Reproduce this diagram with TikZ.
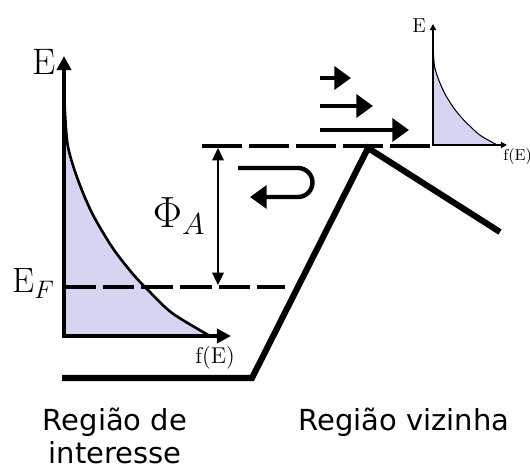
\documentclass[tikz,border=0pt]{standalone}
\usepackage{fontspec}
\usepackage{amsmath}
\usetikzlibrary{arrows.meta}
\newfontfamily\regionfont{DejaVu Sans}
\definecolor{lavender}{RGB}{213,213,242}

\begin{document}
\begin{tikzpicture}[x=0.02cm,y=-0.02cm,
  axis/.style={line width=2.2pt,{Triangle[length=8pt,width=8pt]}-{Triangle[length=8pt,width=8pt]}},
  smallaxis/.style={line width=0.8pt,{Triangle[length=3.5pt,width=3.5pt]}-{Triangle[length=3.5pt,width=3.5pt]}},
  band/.style={line width=3.5pt},
  flow/.style={line width=2.5pt,-{Triangle[length=9.5pt,width=13pt]}},
  level/.style={line width=2.8pt,dash pattern=on 22.7pt off 4pt},
  fermi/.style={line width=2pt,dash pattern=on 18pt off 4pt},
  gap/.style={line width=1.1pt,{Triangle[length=7pt,width=6.5pt]}-{Triangle[length=7pt,width=6.5pt]}},
  region/.style={font=\regionfont\fontsize{16.5}{18.7}\selectfont,align=center,inner sep=0pt}
]
\useasboundingbox (0,0) rectangle (530,469);

% named points
\coordinate (origin) at (64,336);
\coordinate (etop) at (64,56);
\coordinate (fright) at (231,336);
\coordinate (sorigin) at (433,145);
\coordinate (setop) at (433,24);
\coordinate (sfright) at (507,145);
\coordinate (vac) at (218,148);
\coordinate (ef) at (218,285);

% distribution, left
\begin{scope}[shift={(origin)}]
\filldraw[fill=lavender,line width=1.5pt] plot[smooth] coordinates {(0,-254) (1,-223) (4,-189) (14,-156) (28,-123) (48,-89) (68,-63) (83,-47) (108,-23) (146,0)} -- (0,0) -- cycle;
\end{scope}
% distribution, right
\begin{scope}[shift={(sorigin)},xscale=0.44,yscale=0.41]
\filldraw[fill=lavender,line width=0.6pt] plot[smooth] coordinates {(0,-254) (1,-223) (4,-189) (14,-156) (28,-123) (48,-89) (68,-63) (83,-47) (108,-23) (146,0)} -- (0,0) -- cycle;
\end{scope}

\draw[axis] (etop) -- (origin) -- (fright);
\draw[smallaxis] (setop) -- (sorigin) -- (sfright);

% levels
\draw[fermi] (64,287) -- (285,287);
\draw[level] (202,146) -- (431,146);
\draw[band,line join=miter] (62,378) -- (252,378) -- (368,148) -- (500,232);
\draw[gap] (vac) -- (ef);

% electrons
\draw[flow] (320,78) -- (351,78);
\draw[flow] (320,106) -- (373,106);
\draw[flow] (320,130) -- (409,130);
\draw[flow] (238,168) -- (298,168) arc[start angle=-90,end angle=90,radius=14.5] -- (250,197);

% labels
\node[anchor=base,font=\fontsize{21}{24}\selectfont] (eMain) at (44,75) {E};
\node[anchor=base west,font=\fontsize{20}{23}\selectfont] (eF) at (6,293) {E$_F$};
\node[anchor=base,font=\fontsize{25}{28}\selectfont] (phiA) at (179,228) {$\Phi_A$};
\node[anchor=base,font=\fontsize{13}{15}\selectfont] (fMain) at (215,363) {f(E)};
\node[anchor=base,font=\fontsize{11.5}{13}\selectfont] (eSide) at (419,33) {E};
\node[anchor=base west,inner sep=0pt,font=\fontsize{9}{11}\selectfont] (fSide) at (503,161) {f(E)};
\node[region,anchor=north] (regA) at (115,408) {Região de\\interesse};
\node[region,anchor=base] (regB) at (404,430) {Região vizinha};
\end{tikzpicture}
\end{document}
